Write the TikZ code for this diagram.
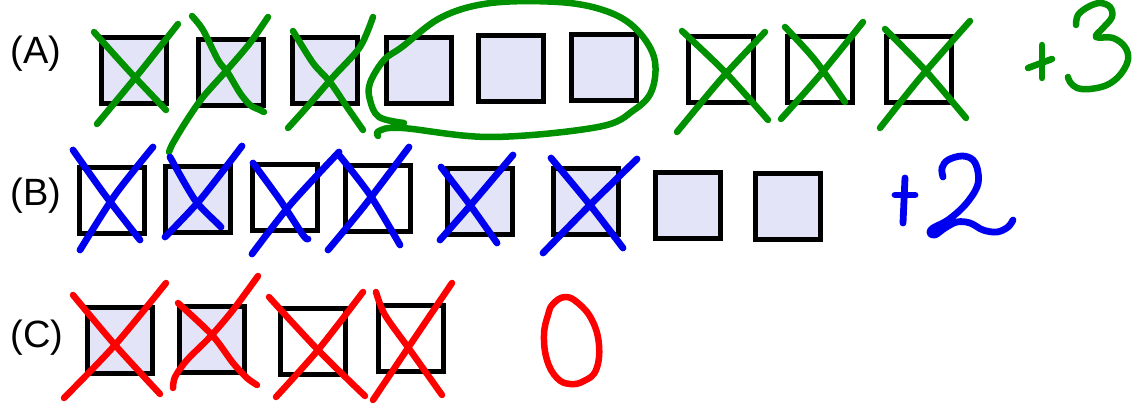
\documentclass[tikz,border=0pt]{standalone}
\usepackage{fontspec}
\setmainfont{Liberation Sans}
\definecolor{lav}{RGB}{228,228,248}
\definecolor{pgreen}{RGB}{0,145,0}
\definecolor{pblue}{RGB}{0,0,240}
\definecolor{pred}{RGB}{255,0,0}
\begin{document}
\begin{tikzpicture}[x=1pt,y=-1pt,
  box/.style={draw=black,line width=5pt,minimum width=65pt,minimum height=66pt,inner sep=0pt},
  lbox/.style={box,fill=lav},
  wbox/.style={box,fill=white},
  lab/.style={font=\fontsize{38}{40}\selectfont,inner sep=0pt},
  pen/.style={line width=6.5pt,line cap=round,line join=round},
  gpen/.style={pen,draw=pgreen},
  bpen/.style={pen,draw=pblue,line width=6.8pt},
  rpen/.style={pen,draw=pred}]
\useasboundingbox (0,0) rectangle (1136,403);
\fill[white] (0,0) rectangle (1136,403);
% labels
\node[lab] (la) at (36,54) {(A)};
\node[lab] (lb) at (36,196) {(B)};
\node[lab] (lc) at (37,338) {(C)};
% row A
\node[lbox] (a1) at (134,70.5) {};
\node[lbox] (a2) at (230.5,72.5) {};
\node[lbox] (a3) at (324.5,71) {};
\node[lbox] (a4) at (419,71) {};
\node[lbox] (a5) at (510.5,69) {};
\node[lbox] (a6) at (604,67.5) {};
\node[wbox] (a7) at (720.5,70) {};
\node[wbox] (a8) at (819.5,70) {};
\node[wbox] (a9) at (919,70) {};
% row B
\node[wbox] (b1) at (112,201) {};
\node[lbox] (b2) at (198,200) {};
\node[wbox] (b3) at (284.5,197.5) {};
\node[wbox] (b4) at (378,199) {};
\node[lbox] (b5) at (479.5,201.5) {};
\node[lbox] (b6) at (586,201.5) {};
\node[lbox] (b7) at (687.5,205.5) {};
\node[lbox] (b8) at (788,207) {};
% row C
\node[lbox] (c1) at (119.5,340.5) {};
\node[lbox] (c2) at (212,340) {};
\node[wbox] (c3) at (313,342) {};
\node[wbox] (c4) at (410.5,339) {};
% green crosses
\draw[gpen] plot[smooth] coordinates {(94,32) (130,72) (166,110)};
\draw[gpen] plot[smooth] coordinates {(178,24) (140,72) (97,124)};
\draw[gpen] plot[smooth] coordinates {(192,16) (203,30) (218,60) (228,73) (240,93) (250,105) (260,110) (264,112)};
\draw[gpen] plot[smooth] coordinates {(268,17) (250,43) (227,70) (203,97) (187,120) (173,143) (169,152)};
\draw[gpen] plot[smooth] coordinates {(293,31) (313,63) (330,82) (347,107) (363,130)};
\draw[gpen] plot[smooth] coordinates {(373,17) (360,47) (333,77) (307,107) (288,128)};
\draw[gpen] plot[smooth] coordinates {(682,31) (725,72) (768,120)};
\draw[gpen] plot[smooth] coordinates {(765,32) (722,78) (677,132)};
\draw[gpen] plot[smooth] coordinates {(785,27) (815,60) (845,102)};
\draw[gpen] plot[smooth] coordinates {(863,22) (820,75) (781,119)};
\draw[gpen] plot[smooth] coordinates {(885,29) (925,70) (966,118)};
\draw[gpen] plot[smooth] coordinates {(970,21) (920,78) (880,128)};
% green loop
\draw[gpen] plot[smooth,tension=0.6] coordinates {(404,123) (379,117) (370,100) (370,83) (384,60) (402,47) (442,17) (491,3) (558,2) (603,10) (634,27) (654,57) (652,90) (634,110) (598,127) (491,137) (402,128) (379,131) (378,136)};
% +3
\draw[gpen] (1042,45) -- (1042,78);
\draw[gpen] (1028,68) -- (1052,59);
\draw[gpen] plot[smooth,tension=0.6] coordinates {(1076,25) (1078,15) (1088,7) (1100,3) (1110,7) (1112,17) (1103,28) (1096,37) (1113,38) (1125,47) (1128,60) (1120,75) (1107,85) (1090,89) (1077,88) (1070,82) (1068,77)};
% blue crosses
\draw[bpen] plot[smooth] coordinates {(73,150) (105,195) (140,240)};
\draw[bpen] plot[smooth] coordinates {(153,147) (115,195) (80,250)};
\draw[bpen] plot[smooth] coordinates {(170,157) (195,200) (218,224) (221,227)};
\draw[bpen] plot[smooth] coordinates {(242,146) (200,200) (165,237)};
\draw[bpen] plot[smooth] coordinates {(253,163) (280,200) (303,235) (308,239)};
\draw[bpen] plot[smooth] coordinates {(339,152) (290,205) (252,254)};
\draw[bpen] plot[smooth] coordinates {(339,155) (370,195) (400,245)};
\draw[bpen] plot[smooth] coordinates {(409,147) (365,205) (328,250)};
\draw[bpen] plot[smooth] coordinates {(441,167) (470,205) (497,243)};
\draw[bpen] plot[smooth] coordinates {(513,155) (475,200) (440,240)};
\draw[bpen] plot[smooth] coordinates {(551,158) (590,205) (623,248)};
\draw[bpen] plot[smooth] coordinates {(637,159) (590,205) (543,253)};
% +2
\draw[bpen] (905,178) -- (903,223);
\draw[bpen] (895,195) -- (915,195);
\draw[bpen] plot[smooth,tension=0.6] coordinates {(943,177) (942,168) (948,160) (962,156) (973,160) (978,172) (977,187) (965,205) (948,220) (933,228) (930,233) (935,235) (945,228) (957,222) (970,223) (983,230) (997,232) (1008,227) (1013,220)};
% red crosses
\draw[rpen] plot[smooth] coordinates {(73,295) (115,345) (160,394)};
\draw[rpen] plot[smooth] coordinates {(166,283) (115,345) (64,398)};
\draw[rpen] plot[smooth] coordinates {(178,303) (212,335) (233,363) (247,378) (257,385)};
\draw[rpen] plot[smooth] coordinates {(258,276) (233,310) (210,337) (187,360) (175,377) (173,388)};
\draw[rpen] plot[smooth] coordinates {(269,297) (318,350) (365,396)};
\draw[rpen] plot[smooth] coordinates {(363,292) (318,350) (276,397)};
\draw[rpen] plot[smooth] coordinates {(376,292) (385,315) (410,350) (442,395)};
\draw[rpen] plot[smooth] coordinates {(452,283) (410,345) (373,400)};
% 0
\draw[rpen] plot[smooth cycle,tension=0.7] coordinates {(553,304) (565,297) (578,303) (592,320) (599,345) (596,370) (584,381) (570,384) (557,378) (547,360) (544,335) (548,315)};
\end{tikzpicture}
\end{document}
